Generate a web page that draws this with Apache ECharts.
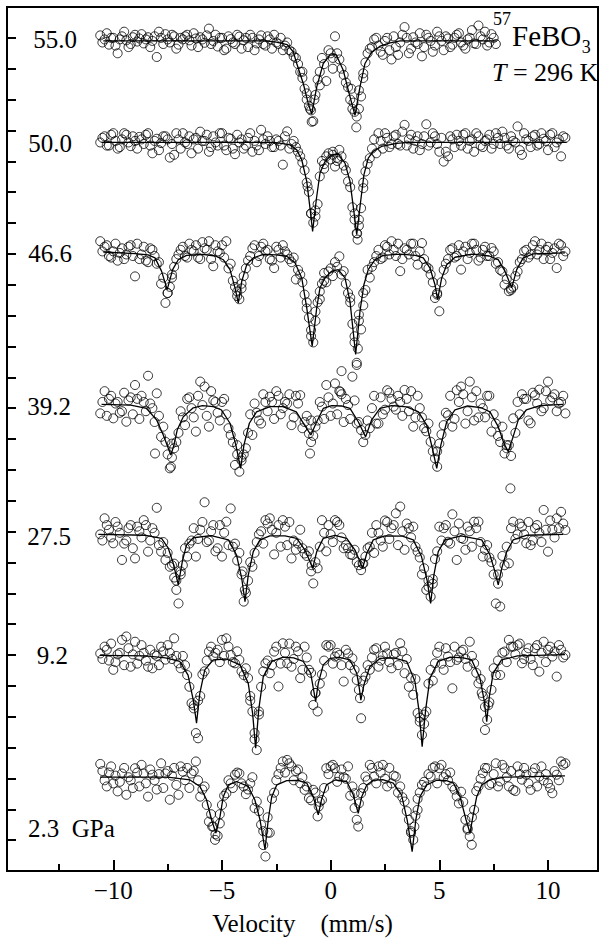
<!DOCTYPE html>
<html><head><meta charset="utf-8">
<script src="https://cdn.jsdelivr.net/npm/echarts@6.0.0/dist/echarts.min.js"></script>
<style>html,body{margin:0;padding:0;background:#fff}#c{width:602px;height:942px}</style>
</head><body><div id="c"></div>
<script>
// velocity channels (mm/s): even and odd sets
const vel = [
-10.6,-10.4,-10.2,-10.0,-9.8,-9.6,-9.4,-9.2,-9.0,-8.8,
-8.6,-8.4,-8.2,-8.0,-7.8,-7.6,-7.4,-7.2,-7.0,-6.8,
-6.6,-6.4,-6.2,-6.0,-5.8,-5.6,-5.4,-5.2,-5.0,-4.8,
-4.6,-4.4,-4.2,-4.0,-3.8,-3.6,-3.4,-3.2,-3.0,-2.8,
-2.6,-2.4,-2.2,-2.0,-1.8,-1.6,-1.4,-1.2,-1.0,-0.8,
-0.6,-0.4,-0.2,0.0,0.2,0.4,0.6,0.8,1.0,1.2,
1.4,1.6,1.8,2.0,2.2,2.4,2.6,2.8,3.0,3.2,
3.4,3.6,3.8,4.0,4.2,4.4,4.6,4.8,5.0,5.2,
5.4,5.6,5.8,6.0,6.2,6.4,6.6,6.8,7.0,7.2,
7.4,7.6,7.8,8.0,8.2,8.4,8.6,8.8,9.0,9.2,
9.4,9.6,9.8,10.0,10.2,10.4,10.6,10.8];
const velB = [
-10.5,-10.3,-10.1,-9.9,-9.7,-9.5,-9.3,-9.1,-8.9,-8.7,
-8.5,-8.3,-8.1,-7.9,-7.7,-7.5,-7.3,-7.1,-6.9,-6.7,
-6.5,-6.3,-6.1,-5.9,-5.7,-5.5,-5.3,-5.1,-4.9,-4.7,
-4.5,-4.3,-4.1,-3.9,-3.7,-3.5,-3.3,-3.1,-2.9,-2.7,
-2.5,-2.3,-2.1,-1.9,-1.7,-1.5,-1.3,-1.1,-0.9,-0.7,
-0.5,-0.3,-0.1,0.1,0.3,0.5,0.7,0.9,1.1,1.3,
1.5,1.7,1.9,2.1,2.3,2.5,2.7,2.9,3.1,3.3,
3.5,3.7,3.9,4.1,4.3,4.5,4.7,4.9,5.1,5.3,
5.5,5.7,5.9,6.1,6.3,6.5,6.7,6.9,7.1,7.3,
7.5,7.7,7.9,8.1,8.3,8.5,8.7,8.9,9.1,9.3,
9.5,9.7,9.9,10.1,10.3,10.5,10.7];

// pressure labels (GPa) and baseline level of each spectrum (axis units)
const pressures = ['55.0','50.0','46.6','39.2','27.5','9.2','2.3'];
const baselines = [26.9, 23.61, 20.03, 15.1, 10.91, 6.97, 3.04];

// relative transmission (measured points) on the even channels
const counts55 = [
0.18,0.05,-0.12,0.1,-0.4,0.15,0.02,-0.1,0.2,0.08,
-0.08,0.12,0.0,-0.52,0.1,0.22,-0.05,0.15,-0.12,0.05,
0.2,-0.15,0.08,0.12,-0.06,0.4,0.0,-0.18,0.1,-0.25,
0.06,-0.1,0.14,0.02,-0.2,0.1,-0.08,0.18,-0.15,0.05,
0.2,-0.1,-0.3,-0.05,-0.35,-0.55,-1.0,-1.55,-2.1,-2.6,
-1.25,-0.55,-1.3,-0.4,0.15,-0.6,-1.1,-1.5,-2.2,-2.45,
-1.8,-0.7,-0.25,0.05,-0.15,-0.45,0.1,-0.6,-0.2,-0.05,
0.45,-0.4,0.12,-0.1,-0.5,0.2,0.0,-0.15,0.15,-0.3,
0.08,-0.12,0.2,-0.05,-0.25,0.1,-0.08,0.5,0.05,-0.15,
0.22,-0.1];
const counts50 = [
0.0,0.2,-0.1,0.3,-0.2,0.1,0.25,-0.12,0.05,0.18,
-0.05,0.3,-0.35,0.12,-0.02,0.2,-0.49,-0.4,0.1,0.3,
-0.05,-0.35,0.15,0.35,0.05,-0.3,0.2,-0.1,0.3,-0.25,
0.12,-0.38,0.0,-0.2,0.15,-0.3,-0.1,0.41,-0.05,0.05,
-0.15,0.05,-0.72,0.36,-0.05,-0.15,-0.45,-0.9,-1.6,-2.6,
-2.0,-0.6,-0.45,-0.55,-0.78,-0.24,-0.75,-1.26,-2.1,-2.94,
-2.13,-0.94,-0.51,0.1,0.3,-0.2,0.15,-0.05,0.25,-0.1,
0.57,0.1,-0.2,0.2,-0.05,0.59,0.0,0.2,-0.3,-0.62,
-0.45,0.1,0.25,-0.1,0.3,0.05,-0.3,0.2,-0.15,0.1,
-0.2,0.3,-0.05,0.15,-0.2,0.05,0.52,-0.4,0.1,-0.15,
0.25,-0.05,0.12,-0.25,0.3,0.0,-0.45,0.15];
const counts46 = [
0.38,0.2,-0.1,0.05,-0.25,0.15,-0.05,0.25,-0.76,-0.2,
0.2,-0.3,0.1,-0.35,-1.0,-1.62,-1.1,-0.45,-0.05,0.2,
-0.15,0.1,0.25,-0.2,0.15,0.38,-0.43,0.05,0.25,0.38,
-0.35,-1.1,-1.5,-0.75,-0.25,0.15,-0.3,0.2,0.05,-0.2,
-0.49,0.1,0.25,-0.05,-0.3,-0.86,-0.7,-1.35,-2.1,-2.9,
-1.6,-1.0,-0.95,-0.5,-0.3,-0.11,-0.59,-1.3,-2.3,-3.56,
-2.48,-1.2,-0.8,-0.3,0.1,-0.15,0.2,0.38,-0.1,-0.59,
0.15,-0.05,0.3,-0.38,0.32,-0.45,-0.7,-1.46,-1.89,-0.55,
-0.2,0.15,-0.1,-0.54,0.2,0.0,0.3,-0.25,0.1,-0.1,
0.16,-0.35,-0.55,-1.03,-1.24,-1.1,-0.6,-0.2,0.1,-0.05,
0.38,0.1,-0.2,0.2,0.0,-0.49,0.25,0.05];
const counts39 = [
-0.27,0.45,0.2,-0.43,0.1,-0.2,-0.54,0.25,0.65,-0.45,
0.1,0.95,-0.1,0.38,-1.03,-1.19,-2.05,-1.4,-0.9,-0.4,
0.2,-0.1,-0.86,0.76,0.6,-0.7,0.15,-0.25,0.1,-0.3,
-0.97,-1.94,-2.16,-1.6,-0.9,-0.97,-0.25,-0.6,0.1,0.27,
-0.45,0.3,-0.1,0.05,-0.65,0.3,0.32,-0.55,-0.92,-1.0,
-0.5,-0.05,0.65,-0.35,0.7,0.45,-0.55,0.0,0.92,-0.6,
-0.81,-0.97,-0.75,0.3,-0.6,-0.3,0.48,0.2,-0.15,0.1,
0.49,-0.2,-0.7,0.3,-0.4,-0.85,-1.19,-1.73,-1.25,-0.65,
-0.33,-0.7,0.48,0.6,-0.6,0.76,-0.5,-0.4,-0.1,0.3,
-0.86,-0.6,-1.2,-1.57,-1.3,-0.43,0.1,0.35,0.2,-0.59,
0.32,0.5,-0.1,0.76,0.25,-0.2,0.1,-0.27];
const counts27 = [
0.0,0.52,0.15,-0.29,0.25,-0.83,-0.2,0.3,-0.78,0.1,
0.46,-0.56,0.2,0.86,-0.56,-0.83,-1.05,-1.4,-2.24,-1.0,
-0.72,-0.2,-0.72,0.15,1.04,-0.2,0.3,-0.45,-0.72,0.41,
0.84,-0.3,-0.6,-2.18,-1.5,-1.05,-0.25,0.1,0.46,0.52,
-0.65,0.3,0.46,-0.35,-0.78,-0.5,0.15,-0.62,-0.55,-1.59,
-1.1,0.46,-0.55,0.0,0.46,0.3,-0.45,-0.45,-0.67,-0.9,
-1.16,-0.72,-0.4,-0.6,0.05,-0.4,0.4,0.2,0.68,0.9,
-0.5,0.2,0.25,-0.56,-1.3,-1.8,-2.02,-0.8,0.25,0.2,
-0.24,0.65,-0.83,-0.12,-0.5,0.1,0.41,0.41,-0.72,-0.35,
-0.9,-2.24,-2.34,-1.0,-0.94,0.41,0.0,0.25,-0.29,-0.35,
0.2,0.05,0.79,-0.56,0.15,0.52,0.73,0.14];
const counts9 = [
0.08,0.3,-0.15,-0.45,0.05,0.52,0.63,-0.35,0.46,0.0,
0.1,-0.35,-0.4,0.0,0.3,-0.12,0.1,0.57,-0.24,0.0,
-0.62,-1.53,-2.5,-1.3,-0.5,0.14,-0.02,0.2,0.52,0.57,
0.03,-0.24,-0.13,-0.62,-0.72,-1.8,-3.05,-1.0,-0.24,-0.56,
0.14,-0.99,0.41,-0.24,-0.35,0.3,-0.72,0.3,-0.45,-1.59,
-1.8,-0.6,0.35,0.35,-0.02,0.03,-0.83,0.08,-0.08,-0.78,
-2.02,-0.67,-0.45,0.2,-0.35,0.0,0.08,-0.4,0.1,0.41,
-0.56,-1.0,-1.26,-1.85,-2.56,-1.8,-0.45,-0.24,0.3,-0.45,
-0.02,-1.05,-0.13,0.14,-0.1,0.46,-0.24,-0.89,-1.3,-2.07,
-1.1,-0.62,-0.62,0.14,0.52,0.3,0.35,-0.24,0.1,-0.1,
0.25,-0.51,0.46,0.2,-0.02,-0.67,0.2,0.03];
const counts2 = [
0.43,-0.1,0.15,-0.2,-0.46,0.12,-0.57,-0.1,0.29,-0.3,
0.12,-0.63,0.08,-0.4,0.45,0.12,-0.73,0.3,-0.57,0.18,
0.3,0.12,0.51,-0.63,-0.3,-1.44,-1.6,-1.9,-0.9,-0.52,
-0.2,0.08,0.12,-0.3,-0.4,0.0,-0.79,-1.54,-2.57,-1.8,
-0.5,0.1,0.51,0.56,0.35,0.2,-0.2,-0.41,-0.68,-0.41,
-1.27,-0.74,0.29,0.35,0.29,0.02,0.0,0.35,-0.3,-1.38,
-0.52,0.02,0.4,0.02,0.35,0.4,-0.3,-0.2,0.02,-0.3,
-0.79,-1.38,-2.03,-0.7,-0.25,-0.3,0.02,0.35,0.29,0.0,
-0.1,-0.3,-0.62,-0.47,-1.38,-1.92,-1.06,-0.3,0.13,0.29,
-0.2,0.45,-0.14,0.29,-0.3,-0.41,0.35,-0.08,0.08,-0.41,
0.29,0.02,-0.1,-0.2,-0.52,0.08,0.51,0.45];

// relative transmission on the odd channels
const counts55b = [
-0.05,0.25,0.1,-0.15,0.05,0.3,-0.2,0.12,-0.02,0.22,
0.05,-0.2,0.15,0.3,-0.1,0.05,0.2,-0.25,0.1,0.15,
0.02,0.25,-0.2,0.05,0.18,-0.1,0.2,0.1,-0.3,0.15,
-0.05,0.2,-0.25,0.1,0.2,-0.3,0.05,-0.1,0.15,-0.25,
-0.05,0.1,-0.15,-0.3,-0.5,-0.75,-1.2,-1.9,-2.25,-1.75,
-1.0,-0.75,-0.3,-0.55,-0.4,-0.9,-1.35,-1.9,-2.3,-1.6,
-1.05,-0.4,-0.2,0.1,-0.35,0.0,-0.3,0.15,-0.45,0.2,
0.1,-0.25,-0.05,0.25,-0.2,0.1,-0.35,0.3,0.0,0.15,
-0.2,0.1,0.25,-0.15,0.05,0.35,-0.1,0.15,0.3,-0.05,
0.1];
const counts50b = [
0.15,-0.1,0.25,0.05,-0.15,0.3,0.0,0.2,-0.2,0.1,
0.25,-0.1,0.05,-0.25,0.2,0.1,-0.05,0.3,-0.2,0.0,
0.2,0.1,-0.2,0.05,0.25,-0.15,0.0,0.3,-0.1,0.15,
-0.2,0.25,0.1,-0.1,0.3,0.05,-0.25,0.1,0.2,-0.15,
0.1,-0.1,0.2,-0.2,0.05,-0.3,-0.65,-1.3,-2.3,-2.2,
-1.1,-0.85,-0.35,-0.4,-0.6,-0.45,-0.9,-1.45,-2.3,-2.5,
-1.3,-0.7,-0.2,-0.35,0.05,0.3,-0.15,0.2,-0.05,0.35,
-0.1,0.25,0.05,-0.25,0.2,-0.1,0.3,-0.05,0.15,-0.3,
0.2,-0.15,0.05,0.25,-0.2,0.1,0.3,-0.1,0.05,0.25,
-0.05,0.15,0.35,-0.1,0.2,0.0,-0.25,0.3,0.05,0.2,
-0.1,0.3,0.05,0.25,-0.15,0.1,0.2];
const counts46b = [
0.05,0.25,-0.15,0.3,0.0,-0.2,0.2,-0.1,0.3,-0.05,
-0.25,0.15,-0.1,-0.3,-0.8,-1.3,-0.7,-0.2,0.1,-0.1,
0.3,0.05,-0.15,0.35,0.1,-0.2,0.25,0.0,-0.15,-0.5,
-0.9,-1.4,-1.15,-0.5,-0.1,0.25,-0.1,0.3,0.1,-0.25,
0.2,-0.15,0.05,-0.2,-0.15,-0.55,-0.95,-1.8,-2.7,-2.2,
-1.25,-0.9,-0.6,-0.75,-0.45,-0.7,-1.0,-1.6,-2.9,-2.0,
-1.3,-0.55,-0.45,-0.1,-0.2,0.25,-0.05,0.1,0.3,-0.2,
0.1,0.3,-0.1,0.05,-0.2,-0.5,-0.95,-1.35,-0.95,-0.35,
0.1,-0.15,0.25,0.05,-0.2,0.3,0.1,-0.15,0.2,-0.1,
0.05,-0.3,-0.6,-0.85,-1.15,-0.75,-0.3,0.05,-0.15,0.25,
-0.05,0.3,0.1,-0.2,0.15,0.3,-0.1];
const counts39b = [
0.1,-0.35,0.3,0.05,-0.25,0.4,0.15,-0.3,0.2,0.3,
-0.2,0.05,-0.55,-0.35,-0.7,-1.6,-1.25,-1.2,-0.2,-0.65,
0.25,-0.4,0.3,0.0,-0.35,0.45,0.1,-0.5,0.2,-0.75,
-1.2,-1.3,-1.7,-1.4,-0.3,0.05,-0.5,0.35,-0.2,0.1,
0.45,-0.3,0.1,0.35,-0.4,0.05,-0.75,-0.35,-1.2,-0.7,
0.1,-0.45,0.25,0.05,-0.3,0.35,0.2,-0.45,0.15,-0.55,
-1.2,-0.5,-0.1,-0.6,0.25,-0.15,0.4,-0.05,0.3,-0.35,
0.2,0.45,-0.4,-0.1,-0.75,-0.6,-1.5,-2.0,-0.95,-0.25,
0.3,-0.45,0.1,0.35,-0.2,0.25,0.45,0.05,-0.4,0.3,
-0.3,-1.0,-0.7,-1.3,-1.65,-0.9,-0.3,0.2,-0.5,0.4,
0.05,-0.2,0.45,0.15,0.35,0.05,0.3];
const counts27b = [
-0.2,0.3,-0.1,0.4,0.05,-0.3,0.2,-0.45,0.25,-0.1,
0.3,-0.2,0.05,-0.35,-0.25,-0.6,-1.0,-1.5,-1.3,-0.45,
-0.3,0.2,-0.15,0.4,-0.25,0.1,-0.55,0.3,0.05,-0.35,
-0.4,-0.85,-1.3,-1.9,-0.9,-0.6,0.0,-0.3,0.35,0.15,
0.05,-0.4,0.25,0.4,-0.2,-0.3,-0.45,-0.7,-1.2,-0.9,
-0.4,0.05,0.3,-0.25,0.4,-0.1,-0.35,-0.65,-0.5,-1.0,
-0.95,-0.45,0.05,0.3,-0.2,0.45,-0.15,0.3,-0.35,0.1,
0.35,-0.1,-0.4,-0.75,-1.1,-1.7,-1.45,-0.55,-0.2,0.3,
-0.3,0.1,0.35,-0.15,0.25,-0.4,0.2,-0.25,-0.5,-0.75,
-1.3,-1.6,-0.7,-0.4,0.2,-0.15,0.35,0.0,0.4,-0.2,
0.3,-0.25,0.15,0.45,-0.1,0.2,0.35];
const counts9b = [
-0.1,0.2,0.4,-0.2,0.1,-0.3,0.25,0.05,-0.25,0.35,
-0.15,0.2,0.05,-0.3,0.15,0.35,-0.1,0.0,-0.4,-0.3,
-1.0,-1.6,-1.45,-0.6,-0.15,0.3,0.1,-0.2,0.0,0.3,
-0.2,0.15,-0.5,-0.4,-1.45,-2.7,-1.8,-0.5,-0.15,-0.3,
0.3,-0.25,0.1,0.4,-0.1,0.15,-0.45,-0.05,-0.55,-1.2,
-0.9,-0.15,0.3,-0.25,0.1,-0.3,0.2,-0.3,-0.45,-1.1,
-0.8,-0.3,-0.05,0.25,-0.15,0.3,-0.2,0.05,-0.3,0.15,
-0.1,-0.7,-0.75,-2.0,-1.9,-0.9,-0.8,0.1,-0.25,0.25,
-0.2,0.3,-0.05,0.2,-0.35,0.0,-0.55,-0.75,-1.65,-1.5,
-0.4,-0.15,0.1,-0.2,0.3,0.05,0.4,-0.1,0.25,-0.3,
0.35,0.1,-0.2,0.3,0.15,0.35,-0.05];
const counts2b = [
0.2,-0.3,0.35,0.05,-0.15,0.3,0.0,-0.35,0.15,0.4,
-0.2,0.25,-0.1,0.1,-0.35,0.2,0.05,-0.25,0.35,-0.1,
-0.35,0.2,-0.1,-0.4,-0.9,-1.2,-1.85,-1.5,-0.6,-0.1,
-0.35,0.15,-0.2,-0.55,-0.2,-1.0,-1.1,-2.2,-1.3,-0.7,
-0.1,0.3,0.15,0.45,-0.1,0.25,0.0,-0.3,-0.75,-0.5,
-0.8,-0.35,0.1,0.4,-0.15,0.25,-0.05,-0.6,-1.0,-0.85,
-0.35,-0.1,0.3,-0.2,0.15,-0.05,0.3,0.05,-0.5,-0.65,
-1.1,-1.8,-1.25,-0.5,-0.15,0.1,0.3,-0.2,0.4,0.1,
0.15,-0.4,-0.85,-0.8,-1.7,-1.3,-0.45,-0.05,0.3,-0.25,
0.1,-0.3,0.4,0.0,0.2,-0.45,0.1,0.3,-0.2,0.15,
-0.3,0.35,0.1,-0.35,0.2,-0.1,0.4];

// additional measured points near the absorption lines [velocity, relative transmission]
const extra55 = [[-0.87,-2.62],[1.18,-2.8],[-0.95,-2.2],[-0.75,-1.9],[1.05,-2.0],[1.3,-2.2],[-1.1,-1.7],[0.95,-1.55],[-0.5,-1.44],[0.1,-0.9],[-1.3,-1.0],[1.5,-1.2]];
const extra50 = [[-0.9,-2.3],[-0.7,-2.4],[-1.06,-1.43],[1.1,-2.5],[1.3,-2.7],[1.5,-1.48],[0.3,-0.5],[-0.3,-0.7],[0.1,-0.3],[1.24,-3.15],[1.22,-2.95]];
const extra46 = [[-7.5,-1.3],[-7.3,-0.8],[-4.3,-1.25],[-4.1,-1.0],[-0.9,-2.5],[-0.7,-1.9],[-0.5,-1.5],[-0.3,-0.65],[1.1,-2.7],[1.25,-3.1],[1.3,-2.2],[1.5,-1.7],[4.9,-1.3],[8.3,-1.2],[-1.1,-1.6],[0.9,-1.45]];
const extra39 = [[-7.35,-2.0],[-7.3,-1.7],[-8.08,-1.57],[-4.1,-1.8],[-4.3,-1.6],[-0.95,-1.57],[0.5,1.1],[1.2,1.3],[0.45,0.43],[4.9,-1.5],[8.1,-1.4],[-0.9,-0.5]];
const extra27 = [[-7.1,-1.8],[-6.9,-1.2],[-3.95,-1.8],[-4.05,-1.2],[-0.87,-1.0],[1.47,-0.95],[4.5,-1.5],[4.7,-1.6],[7.7,-1.3],[8.27,1.49],[-7.2,-0.95]];
const extra9 = [[-6.1,-2.67],[-6.3,-1.7],[-3.5,-2.5],[-3.3,-1.9],[-3.7,-1.3],[-0.7,-1.2],[1.35,-1.37],[4.1,-2.13],[4.3,-2.2],[7.1,-2.4],[7.25,-1.6],[6.95,-1.2]];
const extra2 = [[-5.32,-2.03],[-5.45,-1.6],[-5.1,-1.2],[-3.1,-1.75],[-2.9,-1.8],[1.27,-1.6],[3.7,-1.75],[3.85,-1.6],[4.0,-1.06],[6.49,-2.19],[6.3,-1.65],[-0.55,-0.95],[1.1,-0.52]];

// fitted curves [velocity, relative transmission]
const fit55 = [[-10.46,0],[-3.0,0],[-2.5,-0.04],[-2.0,-0.12],[-1.72,-0.35],[-1.56,-0.73],[-1.26,-1.38],[-1.03,-2.03],[-0.87,-2.37],[-0.64,-1.49],[-0.34,-0.73],[-0.03,-0.46],[0.25,-0.44],[0.58,-0.95],[0.89,-1.81],[1.12,-2.41],[1.35,-1.49],[1.58,-0.73],[1.89,-0.36],[2.27,-0.17],[2.73,-0.06],[3.2,0],[7.64,0]];
const fit50 = [[-10.54,0],[-2.6,0],[-2.2,-0.04],[-1.87,-0.08],[-1.56,-0.24],[-1.33,-0.56],[-1.1,-1.26],[-0.95,-2.13],[-0.83,-2.88],[-0.65,-1.8],[-0.49,-0.99],[-0.26,-0.62],[0.04,-0.4],[0.35,-0.38],[0.66,-0.67],[0.89,-1.26],[1.07,-2.24],[1.2,-2.99],[1.38,-1.91],[1.53,-1.05],[1.73,-0.51],[1.96,-0.29],[2.34,-0.13],[3.03,-0.03],[3.6,0],[10.86,0]];
const fit46 = [[-10.46,0.03],[-9.0,-0.02],[-8.4,-0.06],[-8.08,-0.16],[-7.78,-0.59],[-7.52,-1.19],[-7.27,-0.54],[-7.01,-0.22],[-6.63,-0.08],[-5.9,-0.05],[-5.3,-0.1],[-4.94,-0.22],[-4.63,-0.54],[-4.4,-1.13],[-4.25,-1.62],[-4.09,-0.92],[-3.86,-0.38],[-3.56,-0.16],[-3.1,-0.05],[-2.5,-0.06],[-2.02,-0.11],[-1.64,-0.32],[-1.33,-0.81],[-1.1,-1.78],[-0.85,-3.02],[-0.64,-1.78],[-0.49,-1.13],[-0.26,-0.81],[0.05,-0.59],[0.35,-0.54],[0.66,-0.81],[0.89,-1.57],[1.15,-3.29],[1.35,-1.89],[1.53,-1.03],[1.73,-0.54],[2.04,-0.22],[2.42,-0.08],[3.2,-0.04],[3.9,-0.08],[4.26,-0.16],[4.57,-0.49],[4.8,-1.03],[4.92,-1.51],[5.11,-0.81],[5.34,-0.38],[5.72,-0.14],[6.5,-0.04],[7.3,-0.1],[7.71,-0.22],[8.02,-0.59],[8.33,-1.13],[8.56,-0.54],[8.86,-0.16],[9.32,-0.03],[10.78,0]];
const fit39 = [[-10.54,0.02],[-9.2,0],[-8.47,-0.11],[-8.0,-0.49],[-7.7,-0.97],[-7.47,-1.4],[-7.35,-1.62],[-7.21,-1.3],[-7.06,-0.81],[-6.78,-0.38],[-6.32,-0.09],[-5.9,-0.02],[-5.4,-0.05],[-5.02,-0.16],[-4.63,-0.59],[-4.36,-1.3],[-4.14,-2.05],[-3.99,-1.3],[-3.74,-0.59],[-3.41,-0.22],[-2.79,-0.05],[-2.2,-0.05],[-1.58,-0.22],[-1.2,-0.65],[-0.91,-0.97],[-0.64,-0.54],[-0.34,-0.11],[0.05,-0.02],[0.5,-0.03],[0.89,-0.11],[1.27,-0.54],[1.61,-1.03],[1.88,-0.49],[2.27,-0.11],[2.8,-0.02],[3.5,-0.06],[4.04,-0.22],[4.42,-0.65],[4.68,-1.4],[4.88,-2.05],[5.07,-1.3],[5.34,-0.54],[5.72,-0.16],[6.3,-0.03],[6.9,-0.08],[7.33,-0.22],[7.71,-0.7],[7.97,-1.24],[8.17,-1.51],[8.37,-1.08],[8.63,-0.49],[9.0,-0.16],[9.63,-0.02],[10.7,0.02]];
const fit27 = [[-10.69,0],[-8.5,-0.03],[-7.78,-0.13],[-7.47,-0.45],[-7.24,-0.94],[-7.01,-1.64],[-6.81,-0.83],[-6.63,-0.35],[-6.32,-0.11],[-5.5,-0.04],[-4.7,-0.18],[-4.33,-0.67],[-4.09,-1.43],[-3.94,-2.18],[-3.79,-1.32],[-3.56,-0.56],[-3.25,-0.18],[-2.8,-0.05],[-2.1,-0.05],[-1.56,-0.13],[-1.18,-0.51],[-0.95,-0.89],[-0.83,-1.1],[-0.64,-0.56],[-0.34,-0.13],[0.2,-0.03],[0.74,-0.13],[1.12,-0.51],[1.35,-0.89],[1.47,-1.1],[1.66,-0.62],[1.96,-0.18],[2.5,-0.05],[3.3,-0.06],[3.8,-0.18],[4.18,-0.72],[4.45,-1.53],[4.6,-2.24],[4.75,-1.32],[4.95,-0.56],[5.26,-0.18],[6.0,-0.05],[6.95,-0.18],[7.33,-0.67],[7.56,-1.21],[7.71,-1.64],[7.87,-1.1],[8.1,-0.56],[8.4,-0.18],[9.0,-0.03],[10.7,0]];
const fit9 = [[-10.61,0.02],[-8.5,0],[-7.6,-0.06],[-6.94,-0.18],[-6.56,-0.62],[-6.32,-1.43],[-6.17,-2.18],[-6.02,-1.21],[-5.79,-0.45],[-5.4,-0.13],[-4.8,-0.1],[-4.17,-0.29],[-3.79,-0.89],[-3.59,-1.86],[-3.45,-2.99],[-3.31,-1.75],[-3.1,-0.67],[-2.71,-0.18],[-2.18,-0.04],[-1.7,-0.06],[-1.26,-0.18],[-0.92,-0.56],[-0.77,-1.16],[-0.69,-1.48],[-0.57,-0.89],[-0.34,-0.29],[-0.03,-0.08],[0.4,-0.05],[0.89,-0.13],[1.2,-0.56],[1.32,-1.05],[1.39,-1.43],[1.53,-0.94],[1.8,-0.35],[2.27,-0.08],[2.9,-0.06],[3.5,-0.18],[3.88,-0.83],[4.06,-1.75],[4.21,-2.94],[4.37,-1.75],[4.57,-0.72],[4.95,-0.18],[5.5,-0.04],[6.1,-0.06],[6.49,-0.13],[6.87,-0.72],[7.06,-1.43],[7.18,-2.13],[7.3,-1.32],[7.48,-0.56],[7.86,-0.13],[8.6,0],[10.78,0.04]];
const fit2 = [[-10.61,0],[-7.5,0],[-6.47,-0.09],[-6.01,-0.3],[-5.71,-0.73],[-5.48,-1.38],[-5.28,-1.81],[-5.09,-1.27],[-4.94,-0.63],[-4.71,-0.25],[-4.33,-0.14],[-3.79,-0.3],[-3.49,-0.73],[-3.25,-1.38],[-3.02,-2.35],[-2.87,-1.38],[-2.71,-0.63],[-2.48,-0.25],[-2.02,-0.11],[-1.5,-0.1],[-1.1,-0.19],[-0.8,-0.63],[-0.57,-1.22],[-0.42,-0.73],[-0.19,-0.25],[0.2,-0.09],[0.74,-0.14],[1.04,-0.57],[1.27,-1.17],[1.43,-0.63],[1.66,-0.25],[1.96,-0.1],[2.4,-0.08],[2.88,-0.19],[3.26,-0.57],[3.52,-1.38],[3.75,-2.41],[3.92,-1.38],[4.11,-0.63],[4.42,-0.25],[4.88,-0.1],[5.3,-0.1],[5.65,-0.19],[5.95,-0.63],[6.23,-1.38],[6.41,-1.81],[6.57,-1.17],[6.72,-0.63],[6.95,-0.25],[7.33,-0.09],[8.0,0],[10.78,0.04]];

// axis ticks
const majorTicks = [-10, -5, 0, 5, 10];
const minorTicks = [-12.5, -7.5, -2.5, 2.5, 7.5];

const countsList = [counts55, counts50, counts46, counts39, counts27, counts9, counts2];
const countsListB = [counts55b, counts50b, counts46b, counts39b, counts27b, counts9b, counts2b];
const extraList = [extra55, extra50, extra46, extra39, extra27, extra9, extra2];
const fitList = [fit55, fit50, fit46, fit39, fit27, fit9, fit2];

const FAMILY = '"Liberation Serif", "Times New Roman", serif';
const series = [];
countsList.forEach(function (cs, k) {
  const b = baselines[k];
  const pts = cs.map(function (d, i) { return [vel[i], b + d]; })
    .concat(countsListB[k].map(function (d, i) { return [velB[i], b + d]; }))
    .concat(extraList[k].map(function (p) { return [p[0], b + p[1]]; }));
  series.push({
    type: 'scatter', name: pressures[k] + ' pts', data: pts,
    symbol: 'circle', symbolSize: 9, silent: true, animation: false, z: 2,
    itemStyle: { color: 'rgba(255,255,255,0)', borderColor: '#000', borderWidth: 1 }
  });
  series.push({
    type: 'line', name: pressures[k] + ' fit', data: fitList[k].map(function (p) { return [p[0], b + p[1]]; }),
    symbol: 'none', showSymbol: false, silent: true, animation: false, z: 3,
    lineStyle: { color: '#000', width: 1.3 }
  });
});

function txt(x, y, text, size, align, extra) {
  const st = { text: text, fontFamily: FAMILY, fontSize: size, fill: '#000', align: align, verticalAlign: 'middle', textAlign: align, textVerticalAlign: 'middle' };
  if (extra) Object.assign(st, extra);
  return { type: 'text', x: x, y: y, silent: true, style: st };
}
const labelPos = [[77, 39.5, 'right'], [72, 143, 'right'], [72, 253, 'right'], [71, 406, 'right'], [71, 536, 'right'], [68, 655, 'right'], [28, 828, 'left']];
const graphics = pressures.map(function (p, k) {
  const t = k === pressures.length - 1 ? p + '\u00a0\u00a0GPa' : p;
  return txt(labelPos[k][0], labelPos[k][1], t, 25, labelPos[k][2]);
});
// measure formula width so the subscript follows it
const mctx = document.createElement('canvas').getContext('2d');
mctx.font = '29px "Liberation Serif"';
const feboW = mctx.measureText('FeBO').width;
graphics.push(
  txt(493, 19, '57', 18, 'left'),
  txt(512, 36, 'FeBO', 29, 'left'),
  txt(512 + feboW + 0.5, 47, '3', 18, 'left'),
  txt(492, 72, '{i|T} = 296 K', 26, 'left', { rich: { i: { fontStyle: 'italic', fontFamily: FAMILY, fontSize: 26 } } })
);

const chart = echarts.init(document.getElementById('c'), null, { renderer: 'svg', width: 602, height: 942 });
chart.setOption({
  animation: false,
  backgroundColor: '#fff',
  grid: { left: 7, right: 4, top: 7, bottom: 71, show: true, borderColor: '#000', borderWidth: 2, backgroundColor: 'transparent' },
  xAxis: [{
    type: 'value', min: -14.89, max: 12.3, position: 'bottom',
    axisLine: { show: true, onZero: false, lineStyle: { color: '#000', width: 2 } },
    axisTick: { show: true, inside: true, length: 11, customValues: majorTicks, lineStyle: { color: '#000', width: 2 } },
    axisLabel: { show: true, customValues: majorTicks, margin: 7, color: '#000', fontFamily: FAMILY, fontSize: 25,
      formatter: function (v) { return v < 0 ? '\u2212' + Math.abs(v) : String(v); } },
    splitLine: { show: false },
    name: 'Velocity\u00a0\u00a0\u00a0\u00a0(mm/s)', nameLocation: 'middle', nameGap: 40,
    nameTextStyle: { color: '#000', fontFamily: FAMILY, fontSize: 25 }
  }, {
    type: 'value', min: -14.89, max: 12.3, position: 'bottom',
    axisLine: { show: false, onZero: false },
    axisTick: { show: true, inside: true, length: 7, customValues: minorTicks, lineStyle: { color: '#000', width: 2 } },
    axisLabel: { show: false }, splitLine: { show: false }
  }],
  yAxis: {
    type: 'value', min: 0, max: 28, interval: 1,
    axisLine: { show: true, onZero: false, lineStyle: { color: '#000', width: 2 } },
    axisTick: { show: true, inside: true, length: 9, lineStyle: { color: '#000', width: 2 } },
    axisLabel: { show: false }, splitLine: { show: false }
  },
  graphic: graphics,
  series: series
});
</script></body></html>
